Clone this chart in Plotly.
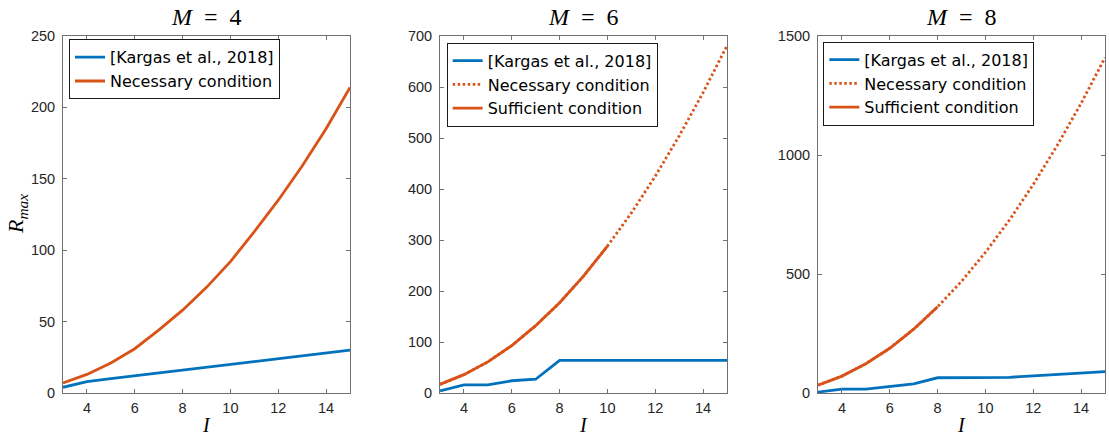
import plotly.graph_objects as go

# ---------------- data ----------------
I_vals = [3, 4, 5, 6, 7, 8, 9, 10, 11, 12, 13, 14, 15]

kargas_m4 = [4, 8, 10, 12, 14, 16, 18, 20, 22, 24, 26, 28, 30]
necessary_m4 = [7, 13, 21, 31, 44, 58, 74, 92, 113, 135, 159, 185, 214]

kargas_m6 = [4, 16, 16, 24, 27, 64, 64, 64, 64, 64, 64, 64, 64]
necessary_m6 = [17, 36, 61, 93, 132, 177, 229, 288, 353, 425, 504, 589, 681]
sufficient_m6 = [17, 36, 61, 93, 132, 177, 229, 288]          # I = 3..10

kargas_m8 = [4, 16, 16, 27, 38, 64, 64, 64, 66, 72, 78, 84, 90]
necessary_m8 = [33, 71, 123, 188, 268, 362, 469, 591, 726, 876, 1040, 1217, 1409]
sufficient_m8 = [33, 71, 123, 188, 268, 362]                   # I = 3..8

panel_titles = ["<i>M</i>&nbsp;&nbsp;=&nbsp;&nbsp;4",
                "<i>M</i>&nbsp;&nbsp;=&nbsp;&nbsp;6",
                "<i>M</i>&nbsp;&nbsp;=&nbsp;&nbsp;8"]
y_ranges = [[0, 250], [0, 700], [0, 1500]]
y_ticks = [[0, 50, 100, 150, 200, 250],
           [0, 100, 200, 300, 400, 500, 600, 700],
           [0, 500, 1000, 1500]]
x_ticks = [4, 6, 8, 10, 12, 14]

label_kargas = "[Kargas et al., 2018]"
label_nec = "Necessary condition"
label_suf = "Sufficient condition"

# ---------------- style ----------------
W, H = 1109, 438
BLUE = "#0072BD"
ORANGE = "#D95319"
LW = 2.8
AX_COL = "#707070"
TXT = "#262626"
SANS = "Liberation Sans, Arial, sans-serif"
LEG = "DejaVu Sans, Liberation Sans, sans-serif"
SERIF = "Liberation Serif, Times New Roman, serif"

# pixel boxes of the three axes: (left, right)
xpix = [(63, 350), (440, 727), (818, 1105)]
ytop, ybot = 36, 393
legend_pos = [(69, 39.3), (446.7, 42.7), (823.3, 41.7)]

fig = go.Figure()

def px2fx(p):
    return p / W

def px2fy(p):
    return 1 - p / H

# ---------------- traces ----------------
series = [
    (kargas_m4, necessary_m4, None),
    (kargas_m6, necessary_m6, sufficient_m6),
    (kargas_m8, necessary_m8, sufficient_m8),
]

for k, (kar, nec, suf) in enumerate(series):
    xa = "x" if k == 0 else f"x{k+1}"
    ya = "y" if k == 0 else f"y{k+1}"
    lg = "legend" if k == 0 else f"legend{k+1}"
    fig.add_trace(go.Scatter(x=I_vals, y=kar, mode="lines", name=label_kargas,
                             line=dict(color=BLUE, width=LW),
                             xaxis=xa, yaxis=ya, legend=lg, showlegend=True))
    if suf is None:
        fig.add_trace(go.Scatter(x=I_vals, y=nec, mode="lines", name=label_nec,
                                 line=dict(color=ORANGE, width=LW),
                                 xaxis=xa, yaxis=ya, legend=lg, showlegend=True))
    else:
        fig.add_trace(go.Scatter(x=I_vals, y=nec, mode="lines", name=label_nec,
                                 line=dict(color=ORANGE, width=LW, dash="2.5px,2.5px"),
                                 xaxis=xa, yaxis=ya, legend=lg, showlegend=True))
        fig.add_trace(go.Scatter(x=I_vals[:len(suf)], y=suf, mode="lines", name=label_suf,
                                 line=dict(color=ORANGE, width=LW),
                                 xaxis=xa, yaxis=ya, legend=lg, showlegend=True))

# ---------------- axes ----------------
layout = dict(
    width=W, height=H, autosize=False,
    margin=dict(l=0, r=0, t=0, b=0, pad=0),
    paper_bgcolor="white", plot_bgcolor="white",
    showlegend=True,
    annotations=[],
)

common_axis = dict(
    showline=True, linecolor=AX_COL, linewidth=1, mirror="ticks",
    ticks="inside", ticklen=4, tickcolor=AX_COL, tickwidth=1,
    showgrid=False, zeroline=False, automargin=False,
    tickfont=dict(family=SANS, size=14.5, color=TXT),
)

for k in range(3):
    xs = "xaxis" if k == 0 else f"xaxis{k+1}"
    ys = "yaxis" if k == 0 else f"yaxis{k+1}"
    xref = "x" if k == 0 else f"x{k+1}"
    yref = "y" if k == 0 else f"y{k+1}"
    l, r = xpix[k]
    layout[xs] = dict(common_axis, domain=[px2fx(l), px2fx(r)], range=[3, 15],
                      tickvals=x_ticks, anchor=yref, ticklabelstandoff=2)
    layout[ys] = dict(common_axis, domain=[px2fy(ybot), px2fy(ytop)], range=y_ranges[k],
                      tickvals=y_ticks[k], anchor=xref, ticklabelstandoff=4)
    lx, ly = legend_pos[k]
    lgname = "legend" if k == 0 else f"legend{k+1}"
    layout[lgname] = dict(x=px2fx(lx), y=px2fy(ly), xanchor="left", yanchor="top",
                          bgcolor="white", bordercolor="#1a1a1a", borderwidth=1,
                          font=dict(family=LEG, size=16, color="black"),
                          itemwidth=30, tracegroupgap=0)
    # panel title
    cx = (l + r) / 2
    layout["annotations"].append(dict(
        x=px2fx(cx), y=px2fy(17), xref="paper", yref="paper",
        text=panel_titles[k], showarrow=False, xanchor="center", yanchor="middle",
        font=dict(family=SERIF, size=24, color="black")))
    # x label
    layout["annotations"].append(dict(
        x=px2fx(cx), y=px2fy(425), xref="paper", yref="paper",
        text="<i>I</i>", showarrow=False, xanchor="center", yanchor="middle",
        font=dict(family=SERIF, size=20, color="black")))

# y label
layout["annotations"].append(dict(
    x=px2fx(17), y=px2fy(214), xref="paper", yref="paper",
    text="<i>R</i><sub><i>max</i></sub>", showarrow=False, textangle=-90,
    xanchor="center", yanchor="middle",
    font=dict(family=SERIF, size=22, color="black")))

fig.update_layout(**layout)
fig.write_html(
    "out.html",
    config={"displayModeBar": False},
    post_script="document.body.style.margin='0';document.body.style.overflow='hidden';",
)
